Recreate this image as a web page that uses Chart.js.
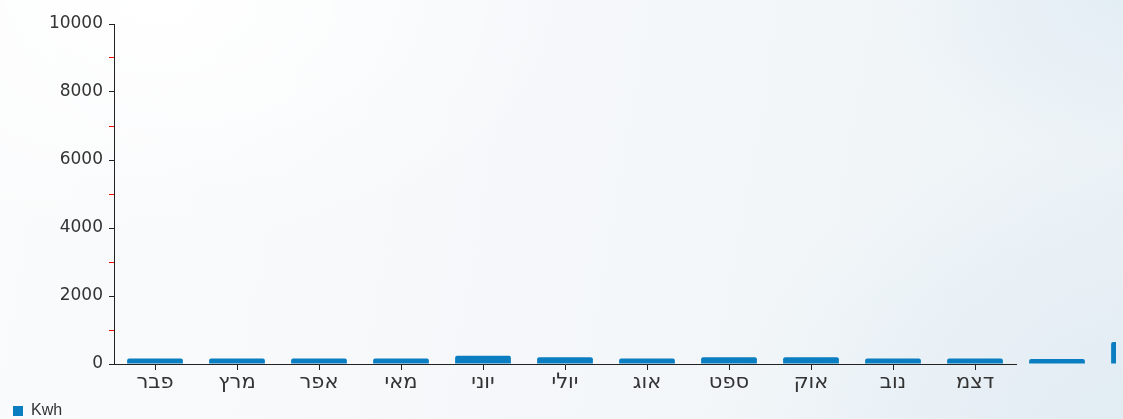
<!DOCTYPE html>
<html>
<head>
<meta charset="utf-8">
<script src="https://cdn.jsdelivr.net/npm/chart.js@4.4.1/dist/chart.umd.min.js"></script>
<style>
  html, body { margin: 0; padding: 0; }
  body {
    width: 1123px; height: 419px; overflow: hidden;
    background:
      radial-gradient(ellipse 600px 420px at 1160px 440px, rgba(222,234,242,0.85), rgba(222,234,242,0) 75%),
      radial-gradient(ellipse 300px 200px at 1123px 0px, rgba(226,237,244,0.9), rgba(226,237,244,0) 80%),
      radial-gradient(ellipse 520px 320px at 160px 0px, rgba(255,255,255,1), rgba(255,255,255,0) 80%),
      linear-gradient(100deg, #fafbfc 0%, #f6f8fa 40%, #f2f6f9 70%, #ecf2f6 100%);
  }
  #wrap { position: absolute; left: 0; top: 0; width: 1116px; height: 419px; }
</style>
</head>
<body>
<div id="wrap"><canvas id="c" width="1116" height="419"></canvas></div>
<script>
const categories = ['פבר', 'מרץ', 'אפר', 'מאי', 'יוני', 'יולי', 'אוג', 'ספט', 'אוק', 'נוב', 'דצמ', 'ינו', ''];
const kwh = [160, 160, 160, 160, 240, 200, 160, 200, 200, 160, 160, 150, 650];
const seriesName = 'Kwh';
const yMin = 0, yMax = 10000, yStep = 1000;

const ctx = document.getElementById('c').getContext('2d');
new Chart(ctx, {
  type: 'bar',
  data: {
    labels: categories,
    datasets: [{
      label: seriesName,
      data: kwh,
      backgroundColor: '#0a7ec0',
      borderWidth: 0,
      borderRadius: 2,
      barPercentage: 0.68,
      categoryPercentage: 1,
      clip: false
    }]
  },
  options: {
    responsive: false,
    animation: false,
    devicePixelRatio: 1,
    layout: { padding: { left: 10, right: 100, top: 24, bottom: -10 } },
    plugins: {
      legend: {
        position: 'bottom',
        align: 'start',
        labels: {
          boxWidth: 10, boxHeight: 10, padding: 3,
          color: '#333',
          font: { family: 'Liberation Sans', size: 16 }
        }
      },
      tooltip: { enabled: false }
    },
    scales: {
      x: {
        min: 0, max: 10,
        afterFit: (s) => { s.height = 36; },
        border: { display: true, color: '#222', width: 1 },
        grid: { display: true, drawOnChartArea: false, tickLength: 6, color: '#222', offset: false },
        ticks: {
          color: '#333', padding: 0,
          font: { family: 'DejaVu Sans', size: 21 },
          maxRotation: 0, autoSkip: false
        }
      },
      y: {
        min: yMin, max: yMax,
        afterFit: (s) => { s.width = 104; },
        border: { display: true, color: '#222', width: 1 },
        grid: {
          display: true, drawOnChartArea: false, tickLength: 5, lineWidth: 1,
          color: (c) => (c.index % 2 === 0) ? '#222' : '#ff0000'
        },
        ticks: {
          stepSize: yStep,
          color: '#333', padding: 6,
          font: { family: 'DejaVu Sans', size: 17 },
          callback: (v) => (v % 2000 === 0 ? String(v) : '')
        }
      }
    }
  }
});
</script>
</body>
</html>
